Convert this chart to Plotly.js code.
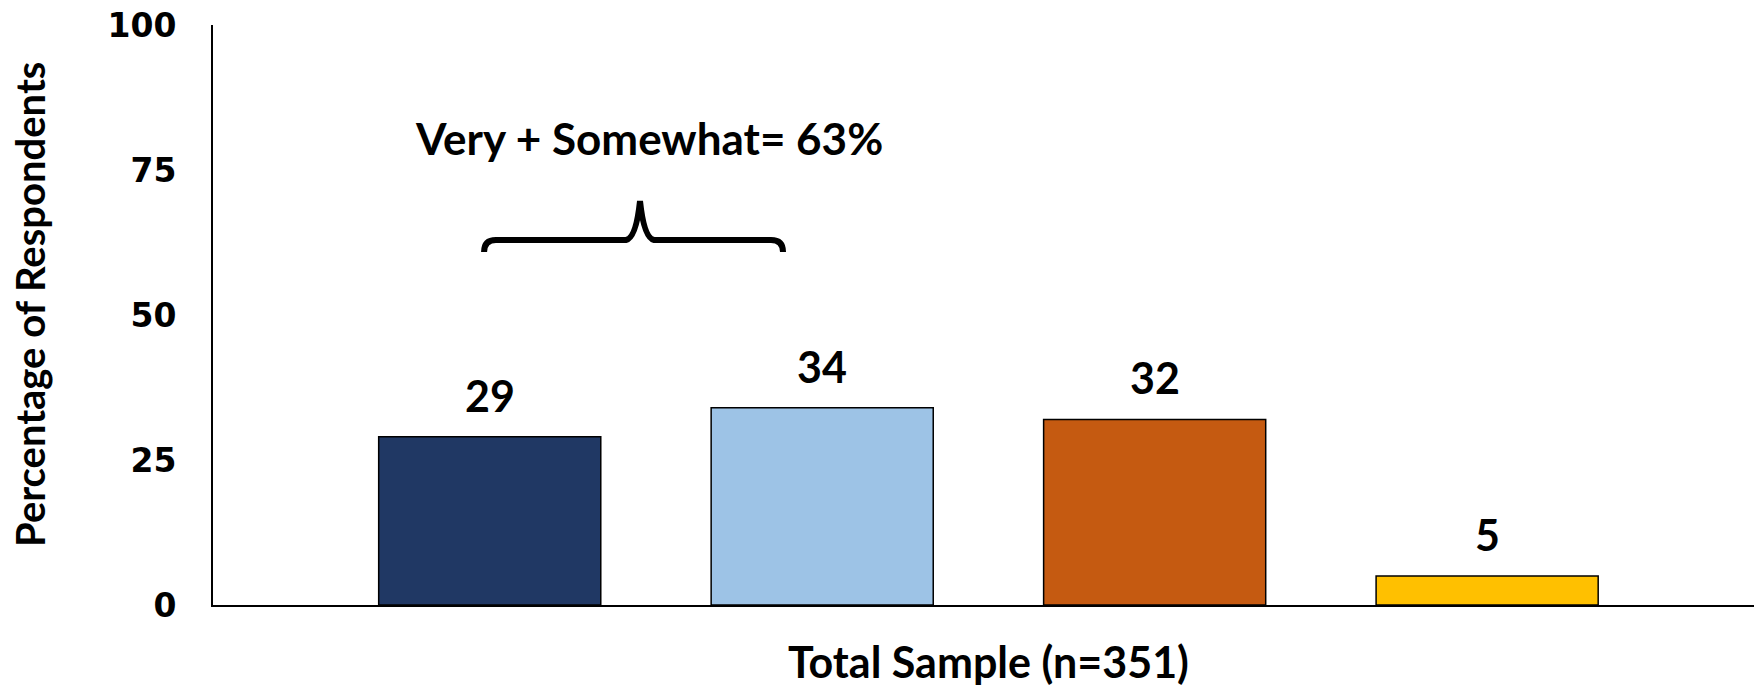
<!DOCTYPE html>
<html>
<head>
<meta charset="utf-8">
<script src="https://cdn.plot.ly/plotly-3.0.1.min.js"></script>
<style>html,body{margin:0;padding:0;background:#fff;}#chart{width:1754px;height:687px;}</style>
</head>
<body>
<div id="chart"></div>
<script>
// Data
const category = ["Total Sample (n=351)"];
const seriesNames = ["Very", "Somewhat", "Not Very", "Not at All"];
const seriesValues = [29, 34, 32, 5];
const seriesLabels = ["29", "34", "32", "5"];
const seriesColors = ["#203864", "#9DC3E6", "#C55A11", "#FFC000"];
const yTicks = [0, 25, 50, 75, 100];
const yTitle = "Percentage of Respondents";
const bracketText = "Very + Somewhat= 63%";

const fam = "Lato, 'Open Sans', sans-serif";
const labelFont = {family: fam, size: 43, color: "#000"};

const traces = seriesNames.map((name, i) => ({
  type: "bar",
  name: name,
  x: category,
  y: [seriesValues[i]],
  text: [seriesLabels[i]],
  textposition: "none",
  marker: {color: seriesColors[i], line: {color: "#000", width: 1.5}},
  hoverinfo: "none"
}));

// Value labels placed above bars via annotations (grouped offsets)
const nS = seriesNames.length;
const bargap = 0.137;
const slot = (1 - bargap) / nS;
const annotations = seriesValues.map((v, i) => ({
  x: -(1 - bargap) / 2 + slot * (i + 0.5),
  xref: "x", y: v, yref: "y",
  text: "<b>" + seriesLabels[i] + "</b>",
  showarrow: false, yanchor: "bottom", yshift: 14,
  font: labelFont
}));
annotations.push({
  x: 0.283, xref: "paper", y: 0.805, yref: "paper",
  text: "<b>" + bracketText + "</b>", showarrow: false,
  xanchor: "center", yanchor: "middle",
  font: {family: fam, size: 44, color: "#000"}
});
// y-axis title
annotations.push({
  x: -0.1188, xref: "paper", y: 0.519, yref: "paper",
  text: "<b>" + yTitle + "</b>", showarrow: false, textangle: -90,
  xanchor: "center", yanchor: "middle",
  font: {family: fam, size: 40, color: "#000"}
});

// brace in paper coordinates
function px(x){ return ((x - 213) / 1541).toFixed(4); }
function py(y){ return ((605 - y) / 580).toFixed(4); }
const brace = "M " + px(484) + "," + py(252) +
  " Q " + px(484) + "," + py(240) + " " + px(496) + "," + py(240) +
  " L " + px(626) + "," + py(240) +
  " Q " + px(636) + "," + py(238) + " " + px(640) + "," + py(201) +
  " Q " + px(644) + "," + py(238) + " " + px(654) + "," + py(240) +
  " L " + px(771) + "," + py(240) +
  " Q " + px(783) + "," + py(240) + " " + px(783) + "," + py(252);

const layout = {
  width: 1754, height: 687,
  margin: {l: 213, r: 0, t: 25, b: 82, pad: 0},
  paper_bgcolor: "#fff", plot_bgcolor: "#fff",
  barmode: "group", bargap: bargap, bargroupgap: 0.332,
  showlegend: false,
  xaxis: {
    type: "category", range: [-0.5032, 0.4968],
    showline: true, linecolor: "#000", linewidth: 2,
    showgrid: false, zeroline: false, ticks: "",
    ticklabelstandoff: 19,
    tickvals: category, ticktext: category.map(c => "<b>" + c + "</b>"),
    tickfont: {family: fam, size: 43, color: "#000"},
    fixedrange: true
  },
  yaxis: {
    range: [0, 100], tickvals: yTicks, ticktext: yTicks.map(t => "<b>" + t + "</b>"),
    showline: true, linecolor: "#000", linewidth: 2,
    showgrid: false, zeroline: false, ticks: "",
    ticklabelstandoff: 28,
    tickfont: {family: "'DejaVu Sans', sans-serif", size: 33, color: "#000"},
    fixedrange: true
  },
  annotations: annotations,
  shapes: [{type: "path", xref: "paper", yref: "paper", path: brace,
            line: {color: "#000", width: 6}}]
};

Plotly.newPlot("chart", traces, layout, {displayModeBar: false, staticPlot: true});
</script>
</body>
</html>
